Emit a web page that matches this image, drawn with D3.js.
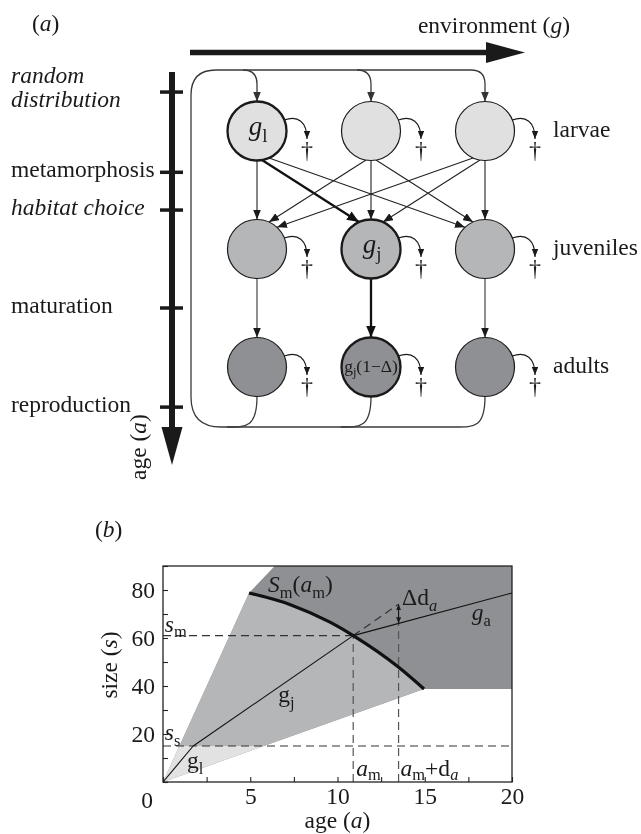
<!DOCTYPE html>
<html><head><meta charset="utf-8">
<script src="https://cdn.jsdelivr.net/npm/d3@7"></script>
<style>
body{margin:0;background:#fff}
svg{display:block;will-change:transform}
svg text{font-family:"Liberation Serif","Times New Roman","DejaVu Serif",serif;fill:#1a1a1a;-webkit-font-smoothing:antialiased}
.dagger{opacity:0.99}
</style>
</head><body>
<script>
// ================= DATA =================
// panel (a): life cycle diagram
const stages = ["larvae", "juveniles", "adults"];
const environments = [1, 2, 3];
const stageFill = ["#e0e0e1", "#b5b6b8", "#8f9093"];
const eventLabels = [["random", "distribution"], ["metamorphosis"], ["habitat choice"], ["maturation"], ["reproduction"]];
const eventItalic = [true, false, true, false, false];
const eventAge = [-0.33, 0.35, 0.67, 1.5, 2.34];   // position along the life cycle (0 larva, 1 juvenile, 2 adult)
const focalLarva = 1, focalJuvenile = 2;

// panel (b): growth trajectory
const xTicks = [0, 2.5, 5, 7.5, 10, 12.5, 15, 17.5, 20];
const xTickLabels = [5, 10, 15, 20];
const yTicks = [0, 10, 20, 30, 40, 50, 60, 70, 80, 90];
const yTickLabels = [20, 40, 60, 80];
const coneUpper = [[0, 0], [4.93, 78.75], [6.4, 90]];
const coneLower = [[0, 0], [14.96, 38.75], [20, 38.75]];
const smCurve = [[4.93, 78.75], [7.3, 73.9], [9.57, 66.6], [10.9, 61], [13.47, 48], [14.96, 38.75]];
const glLine = [[0, 0], [1.73, 15]];
const gjLine = [[1.73, 15], [10.9, 61]];
const gaLine = [[10.9, 61], [20, 78.75]];
const gjExtension = [[10.9, 61], [13.5, 74.1]];
const sS = 15, sM = 61, aM = 10.9, aMd = 13.5, gaAtAMd = 66.1, gjAtAMd = 74.1;

// ================= SETUP =================
const W = 641, H = 834;
const svg = d3.select("body").append("svg").attr("width", W).attr("height", H);
const defs = svg.append("defs");
function marker(id, len, wid, color) {
  defs.append("marker").attr("id", id).attr("viewBox", `0 0 ${len} ${wid}`)
    .attr("refX", len).attr("refY", wid / 2).attr("markerWidth", len).attr("markerHeight", wid)
    .attr("markerUnits", "userSpaceOnUse").attr("orient", "auto-start-reverse")
    .append("path").attr("d", `M0,0L${len},${wid / 2}L0,${wid}Z`).attr("fill", color);
}
marker("ah", 10, 8, "#1a1a1a");
marker("ahG", 10, 8, "#333");
marker("ahT", 12, 10, "#111");
marker("ahS", 8, 6.5, "#1a1a1a");
marker("ahXS", 6, 5, "#1a1a1a");

function rich(sel, x, y, parts, size, anchor, subShift) {
  const t = sel.append("text").attr("x", x).attr("y", y).attr("font-size", size)
    .attr("text-anchor", anchor || "start");
  let shift = 0;
  const sd = subShift === undefined ? 0.25 : subShift;
  parts.forEach(p => {
    const ts = t.append("tspan").text(p.t);
    if (p.i) ts.attr("font-style", "italic");
    const target = p.sub ? size * sd : 0;
    if (target !== shift) { ts.attr("dy", target - shift); shift = target; }
    if (p.sub) ts.attr("font-size", size * 0.7);
  });
  return t;
}

// ================= PANEL (a) =================
const A = svg.append("g");
const colX = d3.scalePoint().domain(environments).range([257, 485]);
const rowY = d3.scalePoint().domain(stages).range([131, 367]);
const lifeY = d3.scaleLinear().domain([0, 2]).range([131, 367]);
const R = 29.5;
const FS = 23.5;

rich(A, 32, 31, [{t: "("}, {t: "a", i: true}, {t: ")"}], FS);
rich(A, 570, 33, [{t: "environment ("}, {t: "g", i: true}, {t: ")"}], FS, "end");

// environment arrow
A.append("line").attr("x1", 190).attr("x2", 489).attr("y1", 52.5).attr("y2", 52.5)
  .attr("stroke", "#1a1a1a").attr("stroke-width", 5.5);
A.append("path").attr("d", "M486,42L525,52.5L486,63Z").attr("fill", "#1a1a1a");

// age arrow
A.append("line").attr("x1", 172).attr("x2", 172).attr("y1", 72).attr("y2", 430)
  .attr("stroke", "#1a1a1a").attr("stroke-width", 6);
A.append("path").attr("d", "M161.5,427L172,465L182.5,427Z").attr("fill", "#1a1a1a");
A.append("text").attr("transform", "translate(146,480) rotate(-90)").attr("font-size", FS)
  .call(t => { t.append("tspan").text("age ("); t.append("tspan").attr("font-style", "italic").text("a"); t.append("tspan").text(")"); });

eventLabels.forEach((lab, i) => {
  const yy = lifeY(eventAge[i]);
  A.append("line").attr("x1", 160).attr("x2", 183).attr("y1", yy).attr("y2", yy)
    .attr("stroke", "#1a1a1a").attr("stroke-width", 3.5);
  const t = A.append("text").attr("font-size", FS).attr("font-style", eventItalic[i] ? "italic" : "normal");
  if (lab.length === 2) {
    t.append("tspan").attr("x", 11).attr("y", yy - 9).text(lab[0]);
    t.append("tspan").attr("x", 11).attr("y", yy + 15).text(lab[1]);
  } else {
    t.attr("x", 11).attr("y", yy + 5).text(lab[0]);
  }
});

// reproduction loop
const loopTop = 70, loopBot = 427, loopLeft = 191;
const loopG = A.append("g").attr("fill", "none").attr("stroke", "#3a3a3a").attr("stroke-width", 1.3);
const xl = colX(environments[environments.length - 1]);
loopG.append("path").attr("marker-end", "url(#ahG)")
  .attr("d", `M${xl},${rowY("adults") + R} C${xl},${loopBot} ${xl - 10},${loopBot} ${xl - 30},${loopBot}
   L${loopLeft + 30},${loopBot} Q${loopLeft},${loopBot} ${loopLeft},${loopBot - 30} L${loopLeft},${loopTop + 25} Q${loopLeft},${loopTop} ${loopLeft + 25},${loopTop}
   L${xl - 14},${loopTop} Q${xl},${loopTop} ${xl},${loopTop + 14} L${xl},${rowY("larvae") - R}`);
environments.slice(0, -1).forEach(e => {
  const cx = colX(e);
  loopG.append("path").attr("marker-end", "url(#ahG)")
    .attr("d", `M${cx - 14},${loopTop} Q${cx},${loopTop} ${cx},${loopTop + 14} L${cx},${rowY("larvae") - R}`);
  loopG.append("path")
    .attr("d", `M${cx},${rowY("adults") + R} C${cx},${loopBot} ${cx - 10},${loopBot} ${cx - 30},${loopBot}`);
});

// larva -> juvenile (habitat choice)
environments.forEach(i => {
  environments.forEach(j => {
    const d = j - i;
    const sdx = d === 0 ? 0 : Math.sign(d) * (Math.abs(d) === 1 ? 5 : 12);
    const edx = d === 0 ? 0 : -Math.sign(d) * (Math.abs(d) === 1 ? 12 : 20);
    const x1 = colX(i) + sdx, y1 = rowY("larvae") + Math.sqrt(R * R - sdx * sdx);
    const x2 = colX(j) + edx, y2 = rowY("juveniles") - Math.sqrt(R * R - edx * edx);
    const thick = (i === focalLarva && j === focalJuvenile);
    A.append("line").attr("x1", x1).attr("y1", y1).attr("x2", x2).attr("y2", y2)
      .attr("stroke", thick ? "#111" : "#222").attr("stroke-width", thick ? 2.3 : 1.1)
      .attr("marker-end", thick ? "url(#ahT)" : "url(#ah)");
  });
});
// juvenile -> adult (maturation)
environments.forEach(j => {
  const thick = j === focalJuvenile;
  A.append("line").attr("x1", colX(j)).attr("x2", colX(j))
    .attr("y1", rowY("juveniles") + R).attr("y2", rowY("adults") - R)
    .attr("stroke", thick ? "#111" : "#333").attr("stroke-width", thick ? 2.3 : 1.1)
    .attr("marker-end", thick ? "url(#ahT)" : "url(#ah)");
});

// circles, mortality arrows, daggers
stages.forEach((s, si) => {
  environments.forEach(e => {
    const cx = colX(e), cy = rowY(s);
    const thick = (si === 0 && e === focalLarva) || (si > 0 && e === focalJuvenile);
    A.append("circle").attr("cx", cx).attr("cy", cy).attr("r", R)
      .attr("fill", stageFill[si]).attr("stroke", "#1a1a1a").attr("stroke-width", thick ? 2.3 : 1.2);
    A.append("path").attr("fill", "none").attr("stroke", "#1a1a1a").attr("stroke-width", 1.1)
      .attr("marker-end", "url(#ahS)")
      .attr("d", `M${cx + 27.3},${cy - 11} C${cx + 41},${cy - 16} ${cx + 50},${cy - 9} ${cx + 50},${cy + 8}`);
    A.append("text").attr("class", "dagger").attr("x", cx + 50).attr("y", cy + 27).attr("text-anchor", "middle")
      .attr("font-size", 24).text("\u2020");
  });
  rich(A, 553, rowY(s) + 6, [{t: s}], FS);
});
rich(A, colX(focalLarva) + 1, rowY("larvae") + 4, [{t: "g", i: true}, {t: "l", sub: true}], 27, "middle");
rich(A, colX(focalJuvenile) + 1, rowY("juveniles") + 4, [{t: "g", i: true}, {t: "j", sub: true}], 27, "middle");
rich(A, colX(focalJuvenile), rowY("adults") + 5, [{t: "g"}, {t: "j", sub: true}, {t: "(1\u2212\u0394)"}], 17.5, "middle");

// ================= PANEL (b) =================
const B = svg.append("g");
const x = d3.scaleLinear().domain([0, 20]).range([163, 512]);
const y = d3.scaleLinear().domain([0, 90]).range([782, 566]);
const P = d => [x(d[0]), y(d[1])];
rich(B, 95, 537, [{t: "("}, {t: "b", i: true}, {t: ")"}], FS);

B.append("clipPath").attr("id", "plotclip").append("rect")
  .attr("x", x(0)).attr("y", y(90)).attr("width", x(20) - x(0)).attr("height", y(0) - y(90));
const plot = B.append("g").attr("clip-path", "url(#plotclip)");

// dark region: above maturation reaction norm
const darkPts = coneUpper.concat([[20, 90]]).concat(coneLower.slice().reverse());
const smPath = d3.line().x(d => x(d[0])).y(d => y(d[1])).curve(d3.curveMonotoneX)(smCurve);
plot.append("path").attr("d", "M" + darkPts.map(P).join("L") + "Z").attr("fill", "#8f9093");
// medium region: juvenile
plot.append("path")
  .attr("d", `M${P(coneUpper[0])}` + smPath.replace(/^M/, "L") + `L${P(coneLower[0])}Z`)
  .attr("fill", "#b5b6b8");
// light region: larvae, below s_s
const aU = coneUpper[1][0] * sS / coneUpper[1][1], aL = coneLower[1][0] * sS / coneLower[1][1];
plot.append("path").attr("d", `M${P([0, 0])}L${P([aU, sS])}L${P([aL, sS])}Z`).attr("fill", "#e2e2e3");

// dashed reference lines
const dash = plot.append("g").attr("stroke", "#333").attr("stroke-width", 1.2)
  .attr("stroke-dasharray", "8,5").attr("fill", "none");
const seg = (a, b) => `M${P(a)}L${P(b)}`;
dash.append("path").attr("d", seg([0, sS], [20, sS]));
dash.append("path").attr("d", seg([0, sM], [aM, sM]));
dash.append("path").attr("d", seg([aM, 0], [aM, sM])).attr("stroke", "#555");
dash.append("path").attr("d", seg([aMd, 0], [aMd, gaAtAMd])).attr("stroke", "#555");
dash.append("path").attr("d", seg(gjExtension[0], gjExtension[1]));

// growth lines
const ln = d3.line().x(d => x(d[0])).y(d => y(d[1]));
[glLine, gjLine, gaLine].forEach(l => plot.append("path").attr("d", ln(l))
  .attr("fill", "none").attr("stroke", "#111").attr("stroke-width", 1.1));
// maturation reaction norm
plot.append("path").attr("d", smPath).attr("fill", "none").attr("stroke", "#111").attr("stroke-width", 3.2);
// delta arrow
plot.append("line").attr("x1", x(aMd)).attr("x2", x(aMd)).attr("y1", y(gjAtAMd)).attr("y2", y(gaAtAMd))
  .attr("stroke", "#111").attr("stroke-width", 1.1)
  .attr("marker-start", "url(#ahXS)").attr("marker-end", "url(#ahXS)");

// axes
const xAx = d3.axisBottom(x).tickValues(xTicks).tickSizeInner(-5).tickSizeOuter(0).tickPadding(5)
  .tickFormat(d => xTickLabels.includes(d) ? d : "");
const gx = B.append("g").attr("transform", `translate(0,${y(0)})`).call(xAx);
const yAx = d3.axisLeft(y).tickValues(yTicks).tickSizeInner(-5).tickSizeOuter(0).tickPadding(8)
  .tickFormat(d => yTickLabels.includes(d) ? d : "");
const gy = B.append("g").attr("transform", `translate(${x(0)},0)`).call(yAx);
[gx, gy].forEach(g => {
  g.attr("font-family", null);
  g.select(".domain").remove();
  g.selectAll("line").attr("stroke", "#222").attr("stroke-width", 1.1);
  g.selectAll("text").attr("font-size", FS);
});
B.append("text").attr("x", x(0) - 16).attr("y", y(0) + 26).attr("text-anchor", "middle")
  .attr("font-size", FS).text("0");
B.append("rect").attr("x", x(0)).attr("y", y(90)).attr("width", x(20) - x(0)).attr("height", y(0) - y(90))
  .attr("fill", "none").attr("stroke", "#222").attr("stroke-width", 1.3);

rich(B, (x(0) + x(20)) / 2, 828, [{t: "age ("}, {t: "a", i: true}, {t: ")"}], FS, "middle");
B.append("text").attr("transform", `translate(117,${(y(0) + y(90)) / 2 - 9}) rotate(-90)`)
  .attr("text-anchor", "middle").attr("font-size", FS)
  .call(t => { t.append("tspan").text("size ("); t.append("tspan").attr("font-style", "italic").text("s"); t.append("tspan").text(")"); });

// annotations
rich(B, x(6.02), y(79.2), [{t: "S", i: true}, {t: "m", sub: true}, {t: "("}, {t: "a", i: true}, {t: "m", sub: true}, {t: ")"}], FS);
rich(B, x(13.7), y(73.8), [{t: "\u0394d"}, {t: "a", i: true, sub: true}], FS);
rich(B, x(17.7), y(67.5), [{t: "g", i: true}, {t: "a", sub: true}], FS);
rich(B, x(6.6), y(33.3), [{t: "g"}, {t: "j", sub: true}], FS);
rich(B, x(1.38), y(5.8), [{t: "g"}, {t: "l", sub: true}], FS);
rich(B, x(0.1), y(sM) - 4, [{t: "s", i: true}, {t: "m", sub: true}], FS);
rich(B, x(0.1), y(sS) - 6, [{t: "s", i: true}, {t: "s", sub: true}], FS);
rich(B, x(aM) + 3, y(0) - 6, [{t: "a", i: true}, {t: "m", sub: true}], FS, "start", 0.15);
rich(B, x(aMd) + 2, y(0) - 6, [{t: "a", i: true}, {t: "m", sub: true}, {t: "+d"}, {t: "a", i: true, sub: true}], FS, "start", 0.15);
</script>
</body></html>
